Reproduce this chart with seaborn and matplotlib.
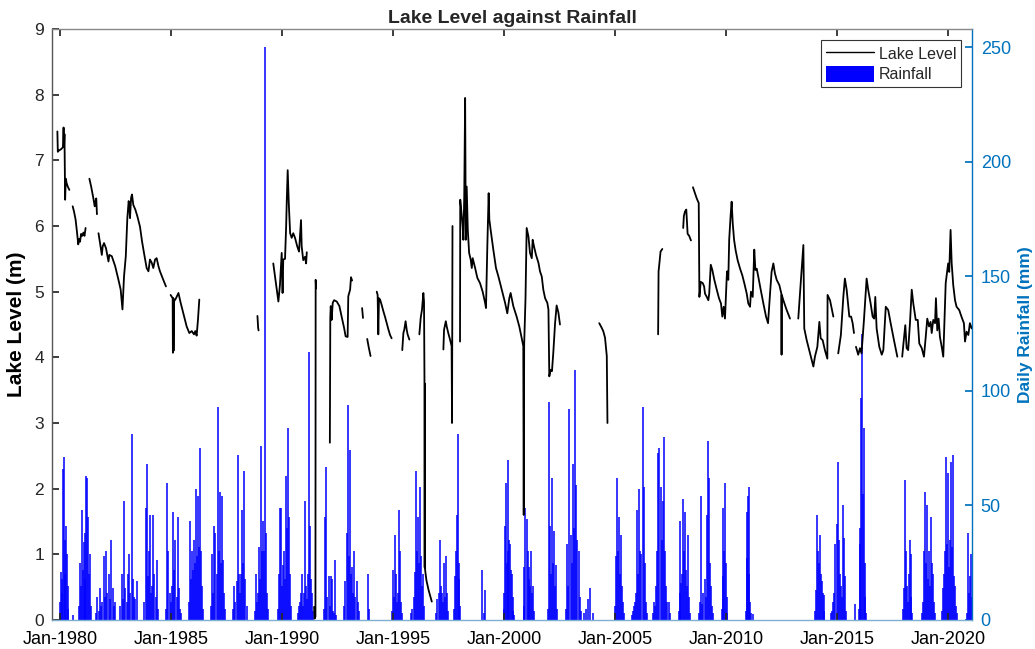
import numpy as np
import pandas as pd
import matplotlib
matplotlib.use('Agg')
import matplotlib.pyplot as plt
import matplotlib.dates as mdates
from matplotlib.lines import Line2D
from matplotlib.patches import Patch
import seaborn as sns


# lake level readings (decimal year, metres); None = gap in the record
lake_points = [
    (1979.88, 7.44), (1979.9, 7.13), (1979.95, 7.15), (1980.05, 7.17), (1980.13, 7.2), (1980.16, 7.5),
    (1980.18, 7.2), (1980.2, 7.4), (1980.23, 6.4), (1980.26, 6.72), (1980.3, 6.65), (1980.35, 6.6), (1980.42, 6.55),
    None,
    (1980.57, 6.3), (1980.63, 6.22), (1980.7, 6.1), (1980.76, 5.92), (1980.82, 5.72), (1980.86, 5.8),
    (1980.9, 5.76), (1980.95, 5.88), (1981.0, 5.85), (1981.05, 5.9), (1981.1, 5.85), (1981.15, 5.97),
    None,
    (1981.32, 6.72), (1981.4, 6.6), (1981.5, 6.42), (1981.56, 6.3), (1981.6, 6.38), (1981.63, 6.42), (1981.66, 6.18),
    None,
    (1981.73, 5.89), (1981.8, 5.74), (1981.88, 5.56), (1981.92, 5.69), (1981.98, 5.74), (1982.07, 5.66),
    (1982.18, 5.46), (1982.22, 5.56), (1982.33, 5.54), (1982.48, 5.39), (1982.63, 5.18), (1982.73, 5.03),
    (1982.81, 4.73), (1982.88, 5.23), (1982.96, 5.54), (1983.03, 6.12), (1983.09, 6.38), (1983.12, 6.3),
    (1983.15, 6.12), (1983.2, 6.43), (1983.24, 6.48), (1983.3, 6.32), (1983.39, 6.25), (1983.48, 6.15),
    (1983.6, 5.99), (1983.69, 5.77), (1983.78, 5.59), (1983.9, 5.36), (1983.98, 5.31), (1984.05, 5.49),
    (1984.13, 5.44), (1984.2, 5.36), (1984.28, 5.49), (1984.35, 5.51), (1984.43, 5.39), (1984.5, 5.31),
    (1984.65, 5.18), (1984.77, 5.08),
    None,
    (1984.98, 4.95), (1985.07, 4.9), (1985.08, 4.07), (1985.1, 4.9), (1985.11, 4.1), (1985.13, 4.85),
    (1985.22, 4.9), (1985.33, 4.98), (1985.43, 4.83), (1985.55, 4.67), (1985.7, 4.47), (1985.82, 4.37),
    (1985.93, 4.4), (1986.03, 4.35), (1986.09, 4.4), (1986.15, 4.33), (1986.21, 4.57), (1986.27, 4.88),
    None,
    (1988.89, 4.63), (1988.92, 4.45), (1988.94, 4.41),
    None,
    (1989.6, 5.43), (1989.83, 4.85), (1989.9, 5.1), (1989.98, 5.59), (1990.02, 4.98), (1990.05, 5.49),
    (1990.13, 5.5), (1990.18, 5.99), (1990.21, 6.4), (1990.25, 6.85), (1990.3, 6.34), (1990.36, 5.89),
    (1990.43, 5.82), (1990.5, 5.89), (1990.58, 5.82), (1990.68, 5.69), (1990.76, 5.61), (1990.85, 6.09),
    (1990.88, 5.69), (1990.95, 5.48), (1991.03, 5.53), (1991.08, 5.43), (1991.11, 5.6),
    None,
    (1991.44, 0.2), (1991.46, 0.02), (1991.5, 0.05), (1991.51, 5.18), (1991.53, 5.05),
    None,
    (1992.15, 2.7), (1992.17, 4.6), (1992.19, 4.78), (1992.23, 4.57), (1992.28, 4.83), (1992.34, 4.87),
    (1992.46, 4.85), (1992.58, 4.78), (1992.68, 4.62), (1992.79, 4.45), (1992.86, 4.32), (1992.95, 4.31),
    (1992.98, 4.93), (1993.06, 5.03), (1993.1, 5.22), (1993.15, 5.17),
    None,
    (1993.6, 4.75), (1993.64, 4.6),
    None,
    (1993.83, 4.28), (1993.9, 4.15), (1993.98, 4.02),
    None,
    (1994.26, 5.0), (1994.3, 4.95), (1994.33, 4.35), (1994.36, 4.9), (1994.41, 4.88), (1994.48, 4.8),
    (1994.56, 4.7), (1994.63, 4.62), (1994.71, 4.52), (1994.78, 4.43), (1994.86, 4.34), (1994.93, 4.29),
    None,
    (1995.41, 4.11), (1995.46, 4.37), (1995.5, 4.42), (1995.56, 4.55), (1995.61, 4.42), (1995.65, 4.35), (1995.73, 4.27),
    None,
    (1996.18, 4.35), (1996.24, 4.6), (1996.3, 4.73), (1996.36, 4.98), (1996.39, 4.85), (1996.41, 3.68),
    (1996.42, 0.8), (1996.43, 3.6), (1996.44, 0.76), (1996.5, 0.6), (1996.6, 0.45), (1996.74, 0.28),
    None,
    (1997.26, 4.12), (1997.29, 4.42), (1997.37, 4.55), (1997.41, 4.47), (1997.48, 4.37), (1997.56, 4.27),
    (1997.63, 4.17), (1997.65, 3.0), (1997.67, 6.0),
    None,
    (1998.01, 4.24), (1998.02, 6.4), (1998.09, 6.15), (1998.13, 5.99), (1998.16, 5.79), (1998.2, 6.45),
    (1998.24, 7.95), (1998.27, 5.79), (1998.31, 6.6), (1998.36, 5.94), (1998.42, 5.59), (1998.49, 5.49),
    (1998.54, 5.36), (1998.58, 5.51), (1998.69, 5.36), (1998.79, 5.21), (1998.91, 5.13), (1999.03, 5.0),
    (1999.14, 4.83), (1999.18, 4.75), (1999.24, 5.69), (1999.3, 6.5), (1999.33, 6.1), (1999.39, 5.94),
    (1999.51, 5.64), (1999.63, 5.36), (1999.74, 5.23), (1999.89, 5.03), (2000.04, 4.83), (2000.14, 4.67),
    (2000.23, 4.9), (2000.29, 4.98), (2000.41, 4.78), (2000.56, 4.62), (2000.68, 4.47), (2000.79, 4.29),
    (2000.86, 4.17), (2000.88, 1.6), (2000.9, 4.2), (2000.96, 4.9), (2001.01, 5.97), (2001.09, 5.84),
    (2001.16, 5.59), (2001.24, 5.51), (2001.28, 5.79), (2001.34, 5.69), (2001.43, 5.56), (2001.54, 5.44),
    (2001.61, 5.31), (2001.69, 5.23), (2001.76, 5.03), (2001.84, 4.9), (2001.94, 4.83), (2001.99, 4.73),
    (2002.03, 3.71), (2002.09, 3.81), (2002.15, 3.79), (2002.21, 4.07), (2002.29, 4.52), (2002.36, 4.79),
    (2002.44, 4.68), (2002.51, 4.5),
    None,
    (2004.28, 4.52), (2004.39, 4.45), (2004.46, 4.4), (2004.54, 4.3), (2004.62, 4.02), (2004.65, 3.0),
    None,
    (2006.93, 4.35), (2006.95, 5.31), (2006.99, 5.44), (2007.04, 5.61), (2007.12, 5.65),
    None,
    (2008.06, 5.97), (2008.09, 6.15), (2008.14, 6.22), (2008.2, 6.25), (2008.24, 6.0), (2008.26, 5.88),
    (2008.33, 5.85), (2008.41, 5.78),
    None,
    (2008.5, 6.59), (2008.67, 6.42), (2008.76, 6.35), (2008.79, 4.92), (2008.85, 5.15), (2008.94, 5.13),
    (2009.0, 5.08), (2009.04, 4.97), (2009.12, 4.92), (2009.19, 4.87), (2009.23, 4.97), (2009.3, 5.41),
    (2009.37, 5.33), (2009.46, 5.18), (2009.57, 5.03), (2009.67, 4.9), (2009.76, 4.82), (2009.82, 4.62),
    (2009.88, 4.77), (2009.94, 4.59), (2010.02, 5.23), (2010.04, 5.31), (2010.09, 5.18), (2010.13, 5.79),
    (2010.2, 6.19), (2010.24, 6.37), (2010.29, 6.04), (2010.35, 5.79), (2010.42, 5.63), (2010.51, 5.48),
    (2010.62, 5.35), (2010.72, 5.25), (2010.81, 5.13), (2010.92, 4.97), (2010.99, 4.82), (2011.07, 4.77),
    (2011.11, 5.0), (2011.19, 4.92), (2011.26, 5.64), (2011.31, 5.33), (2011.37, 5.35), (2011.44, 5.23),
    (2011.55, 5.03), (2011.67, 4.82), (2011.79, 4.62), (2011.88, 4.52), (2011.97, 4.97), (2012.04, 5.3),
    (2012.12, 5.43), (2012.19, 5.28), (2012.27, 5.18), (2012.39, 5.1), (2012.48, 4.97), (2012.49, 4.04),
    (2012.5, 4.95), (2012.57, 4.87), (2012.72, 4.72), (2012.87, 4.59),
    None,
    (2013.24, 4.59), (2013.36, 5.18), (2013.47, 5.71), (2013.51, 4.44), (2013.62, 4.26), (2013.77, 4.06),
    (2013.92, 3.86), (2013.99, 4.01), (2014.1, 4.16), (2014.19, 4.54), (2014.25, 4.29), (2014.34, 4.26),
    (2014.44, 4.11), (2014.55, 3.98), (2014.56, 4.95), (2014.67, 4.87), (2014.82, 4.62),
    None,
    (2015.04, 4.06), (2015.16, 4.34), (2015.27, 4.92), (2015.34, 5.2), (2015.42, 5.03), (2015.54, 4.62),
    (2015.62, 4.62), (2015.69, 4.52), (2015.75, 4.37),
    None,
    (2015.84, 4.16), (2015.94, 4.04), (2016.02, 4.14), (2016.09, 4.06), (2016.2, 4.57), (2016.32, 5.2),
    (2016.39, 5.03), (2016.5, 4.82), (2016.59, 4.62), (2016.66, 4.59), (2016.71, 4.92), (2016.77, 4.44),
    (2016.89, 4.16), (2017.0, 4.04), (2017.07, 4.11), (2017.18, 4.77), (2017.29, 4.72), (2017.4, 4.52),
    (2017.55, 4.26), (2017.7, 4.01),
    None,
    (2017.92, 4.01), (2017.97, 4.19), (2018.06, 4.49), (2018.12, 4.14), (2018.19, 4.11), (2018.27, 4.52),
    (2018.35, 5.03), (2018.42, 4.82), (2018.53, 4.57), (2018.62, 4.57), (2018.69, 4.21), (2018.8, 4.14),
    (2018.9, 4.01), (2018.98, 4.31), (2019.05, 4.59), (2019.13, 4.47), (2019.2, 4.54), (2019.25, 4.37),
    (2019.32, 4.57), (2019.4, 4.52), (2019.44, 4.9), (2019.5, 4.41), (2019.56, 4.59), (2019.62, 4.31),
    (2019.7, 4.16), (2019.77, 4.01), (2019.81, 4.41), (2019.88, 5.13), (2019.99, 5.43), (2020.04, 5.3),
    (2020.1, 5.94), (2020.15, 5.43), (2020.22, 5.1), (2020.3, 4.87), (2020.37, 4.77), (2020.49, 4.72),
    (2020.59, 4.62), (2020.7, 4.52), (2020.75, 4.24), (2020.82, 4.39), (2020.9, 4.34), (2020.97, 4.52),
    (2021.05, 4.44),
]

# rainfall bursts: first day, last day (decimal years) and daily totals (mm) in order
rain_start = [1980.0, 1980.6, 1980.87, 1981.62, 1982.72, 1983.8, 1984.78, 1985.8, 1986.8, 1987.8,
              1988.78, 1989.82, 1990.7, 1991.9, 1992.8, 1993.88, 1994.95, 1995.82, 1996.95, 1997.76,
              1999.0, 1999.97, 2000.87, 2001.98, 2002.78, 2003.6, 2004.98, 2005.75, 2006.68, 2007.85,
              2008.78, 2009.8, 2010.88, 2011.19, 2013.99, 2014.72, 2015.8, 2015.97, 2017.97, 2018.8,
              2019.72, 2020.85]
rain_end = [1980.38, 1980.6, 1981.38, 1982.48, 1983.45, 1984.4, 1985.45, 1986.45, 1987.45, 1988.4,
            1989.38, 1990.38, 1991.4, 1992.42, 1993.45, 1993.92, 1995.42, 1996.4, 1997.45, 1998.02,
            1999.14, 2000.45, 2001.36, 2002.38, 2003.45, 2003.98, 2005.4, 2006.42, 2007.45, 2008.38,
            2009.4, 2010.05, 2011.1, 2011.19, 2014.42, 2015.4, 2015.8, 2016.3, 2018.38, 2019.4,
            2020.4, 2021.06]
rain_mm = [
    [8, 21, 12, 18, 66, 71, 35, 20, 41, 29, 15, 5],
    [2],
    [6, 25, 15, 48, 22, 34, 18, 38, 63, 62, 45, 20, 29, 6],
    [3, 10, 4, 14, 6, 8, 28, 10, 30, 12, 20, 9, 35, 14, 6, 8],
    [6, 20, 9, 52, 14, 8, 20, 29, 12, 81, 18, 10, 9, 17],
    [8, 49, 68, 19, 30, 46, 12, 15, 46, 20, 10, 26, 5],
    [5, 60, 30, 12, 8, 15, 47, 22, 35, 10, 45, 14, 5, 3],
    [8, 43, 18, 30, 22, 35, 25, 57, 28, 54, 32, 75, 30, 15, 5],
    [6, 29, 12, 41, 38, 20, 93, 30, 56, 25, 54, 26, 12, 5],
    [5, 15, 8, 17, 72, 20, 12, 20, 48, 25, 65, 18, 6],
    [4, 20, 8, 12, 32, 18, 76, 30, 43, 30, 250, 38, 12, 5],
    [5, 20, 49, 49, 15, 24, 30, 18, 63, 40, 84, 45, 20, 6],
    [3, 6, 8, 12, 20, 6, 12, 52, 15, 9, 20, 117, 41, 18, 12, 4],
    [5, 45, 67, 10, 19, 6, 19, 18, 4, 3, 26, 2],
    [6, 17, 38, 94, 28, 74, 20, 23, 12, 30, 10, 17, 8, 4],
    [20, 5],
    [4, 22, 10, 37, 20, 8, 12, 48, 30, 8, 3],
    [3, 5, 10, 21, 65, 30, 45, 25, 58, 28, 15, 20, 6],
    [3, 9, 12, 35, 15, 12, 8, 25, 10, 28, 12, 4],
    [5, 19, 30, 46, 81, 25, 18, 6],
    [22, 3, 13],
    [5, 12, 41, 60, 25, 30, 70, 35, 33, 22, 20, 10, 4, 2],
    [6, 23, 49, 44, 30, 18, 23, 15, 30, 12, 15, 4],
    [5, 95, 41, 20, 62, 25, 39, 15, 24, 5],
    [5, 33, 15, 92, 37, 25, 68, 40, 109, 59, 35, 30, 10, 4],
    [3, 5, 9, 14, 3],
    [6, 28, 62, 30, 45, 20, 37, 15, 8, 3],
    [2, 4, 6, 8, 12, 48, 20, 57, 30, 29, 93, 58, 25, 8, 3],
    [3, 8, 6, 15, 30, 73, 75, 58, 35, 52, 80, 30, 15, 8, 8, 3],
    [4, 43, 12, 16, 20, 53, 30, 47, 22, 15, 37, 10, 3],
    [3, 8, 54, 7, 12, 18, 10, 46, 78, 62, 25, 15, 6, 3],
    [5, 49, 19, 30, 60, 25, 10, 3],
    [4, 27, 47, 54, 58, 20, 8, 3],
    [2.5],
    [4, 13, 46, 30, 25, 37, 20, 17, 12, 11, 4],
    [3, 4, 8, 12, 33, 42, 69, 35, 20, 15, 10, 50, 36, 19, 4],
    [7],
    [5, 33, 40, 97, 125, 55, 84, 25, 10, 3],
    [5, 14, 61, 30, 15, 8, 20, 35, 29, 10, 3],
    [3, 8, 30, 56, 25, 50, 18, 30, 15, 45, 25, 20, 8, 3],
    [4, 14, 20, 30, 71, 33, 64, 23, 35, 69, 32, 72, 19, 15, 6, 3],
    [3, 38, 12, 19, 29, 10],
]


def to_date(y):
    year = int(np.floor(y))
    return pd.Timestamp(year=year, month=1, day=1) + pd.Timedelta(days=(y - year) * 365.25)


# lake frame, one unit per continuous piece of record
rows = []
seg = 0
for p in lake_points:
    if p is None:
        seg += 1
        continue
    rows.append({'date': to_date(p[0]), 'level': p[1], 'seg': seg})
lake = pd.DataFrame(rows)

rows = []
for s, e, vals in zip(rain_start, rain_end, rain_mm):
    for yr, v in zip(np.linspace(s, e, len(vals)), vals):
        rows.append({'date': to_date(yr), 'mm': v})
rain = pd.DataFrame(rows)


sns.set_theme(style='white')
plt.rcParams['font.family'] = ['Liberation Sans', 'DejaVu Sans']

fig = plt.figure(figsize=(10.35, 6.49), dpi=100)
ax = fig.add_axes([0.0505, 0.0447, 0.889, 0.9106])
ax2 = ax.twinx()

rain_col = '#0000ff'
axis_blue = '#0072BD'

ax2.vlines(rain['date'], 0, rain['mm'], color=rain_col, lw=1.1)
ax2.set_ylim(0, 258)
ax2.set_yticks([0, 50, 100, 150, 200, 250])
ax2.set_ylabel('Daily Rainfall (mm)', fontsize=12.5, fontweight='bold', color=axis_blue, labelpad=5)
ax2.tick_params(axis='y', direction='in', length=5, colors=axis_blue, labelsize=13, pad=6)

sns.lineplot(data=lake, x='date', y='level', units='seg', estimator=None, sort=False,
             color='black', lw=1.3, ax=ax, legend=False)
ax.set_zorder(ax2.get_zorder() + 1)
ax.patch.set_visible(False)

ax.set_ylim(0, 9)
ax.set_yticks(range(0, 10))
ax.set_xlim(to_date(1979.65), to_date(2021.08))
ax.xaxis.set_major_locator(mdates.YearLocator(5, month=1, day=1))
ax.xaxis.set_major_formatter(mdates.DateFormatter('%b-%Y'))
ax.set_xlabel('')
ax.set_ylabel('Lake Level (m)', fontsize=15, fontweight='bold', color='black', labelpad=6)
ax.set_title('Lake Level against Rainfall', fontsize=14, fontweight='bold', pad=4)
ax.tick_params(axis='x', direction='in', length=5, top=True, bottom=True, labelsize=13, pad=8, colors='#262626')
ax.tick_params(axis='y', direction='in', length=5, left=True, labelsize=12.5, pad=6, colors='#262626')
ax.tick_params(axis='x', labelcolor='black')

for a in (ax, ax2):
    for side in a.spines.values():
        side.set_linewidth(1.0)
ax.spines['left'].set_color('#555555')
ax.spines['top'].set_color('#888888')
ax.spines['bottom'].set_color('#7fb0d0')
ax2.spines['right'].set_color(axis_blue)
ax2.spines['left'].set_visible(False)
ax2.spines['top'].set_visible(False)
ax2.spines['bottom'].set_visible(False)
ax.spines['right'].set_visible(False)

handles = [Line2D([], [], color='black', lw=1.0), Patch(facecolor=rain_col, edgecolor='none')]
leg = ax.legend(handles, ['Lake Level', 'Rainfall'], loc='upper right', fontsize=11.5,
                frameon=True, fancybox=False, edgecolor='#333333', framealpha=1,
                borderaxespad=0.7, handlelength=3.0, handleheight=1.2, handletextpad=0.3,
                borderpad=0.3, labelspacing=0.25)
leg.get_frame().set_linewidth(0.8)

fig.savefig('out.png', dpi=100)
